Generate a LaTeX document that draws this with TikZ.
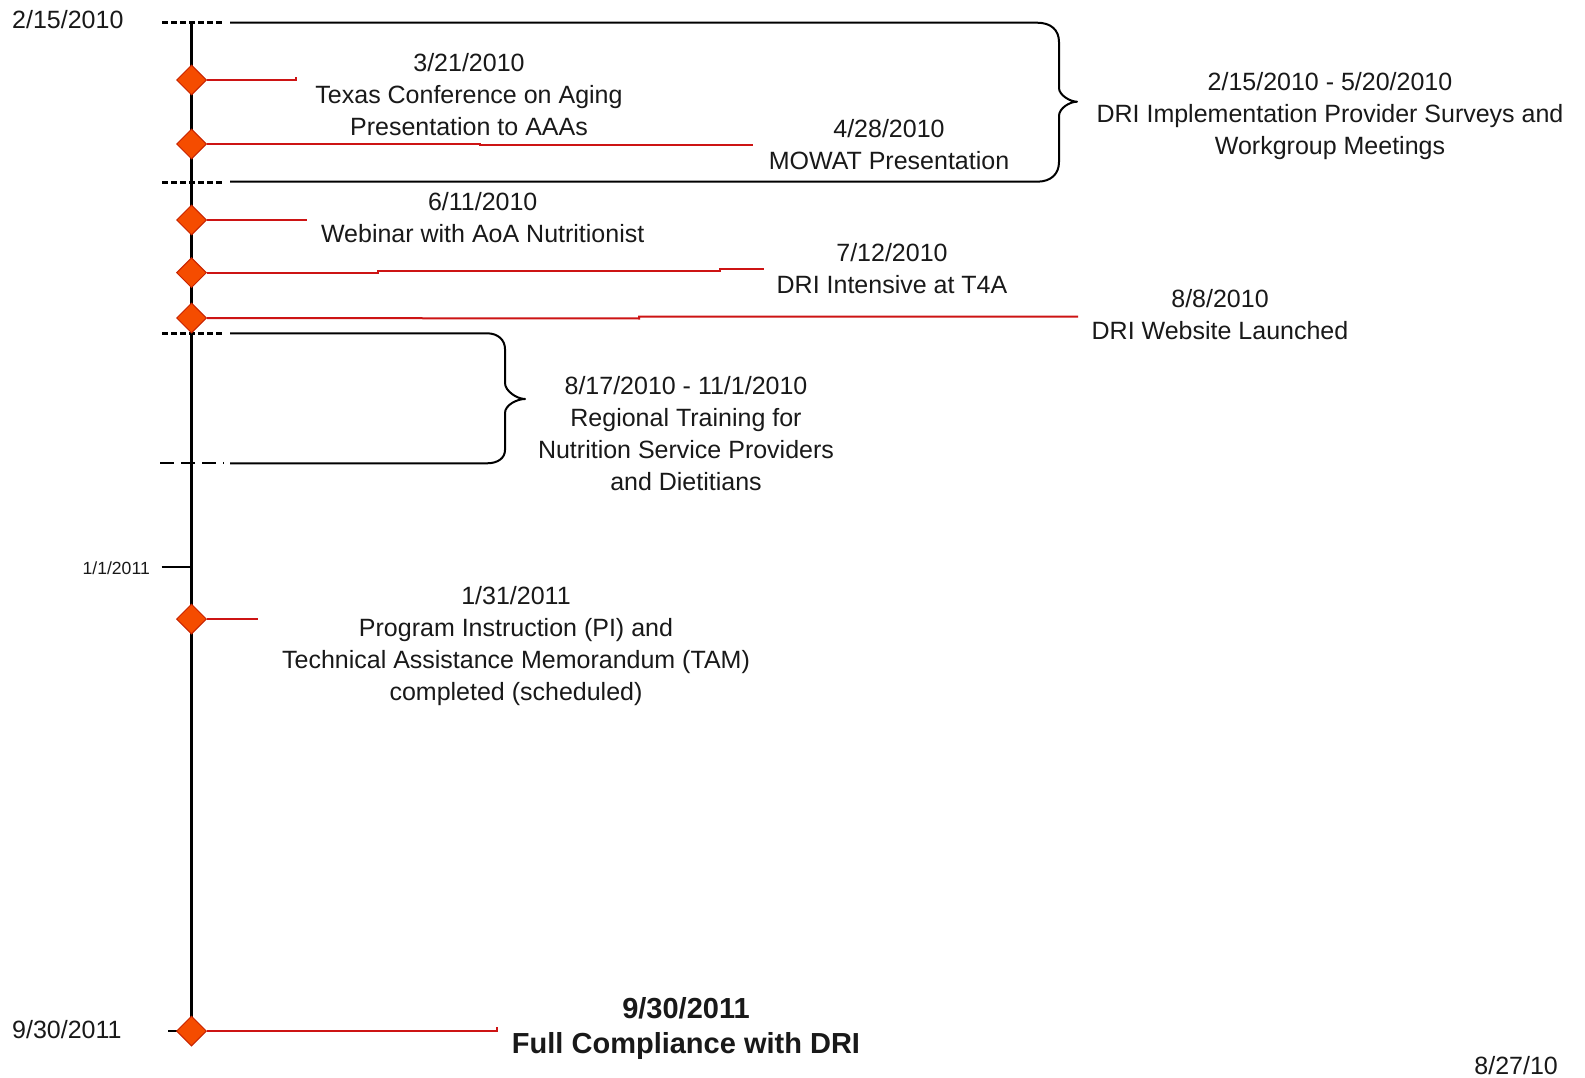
\documentclass[tikz,border=0pt]{standalone}
\usepackage{fontspec}
\setmainfont{Liberation Sans}
\usetikzlibrary{shapes.geometric}

\definecolor{inkgray}{RGB}{25,25,25}
\definecolor{markfill}{RGB}{245,76,0}
\definecolor{markedge}{RGB}{200,35,0}
\definecolor{leadred}{RGB}{205,20,20}

\pgfdeclarelayer{bg}
\pgfsetlayers{bg,main}

\begin{document}
\begin{tikzpicture}[x=1pt,y=-1pt,
  marker/.style={diamond, draw=markedge, line width=1pt, fill=markfill,
    minimum width=30pt, minimum height=30pt, inner sep=0pt},
  lead/.style={draw=leadred, line width=2pt},
  spine/.style={draw=black, line width=3.5pt},
  tickdash/.style={draw=black, line width=3pt, dash pattern=on 6pt off 3pt},
  tickdashlong/.style={draw=black, line width=2pt, dash pattern=on 14pt off 7pt},
  bracket/.style={draw=black, line width=2pt, line join=round},
  label/.style={text=inkgray, inner sep=0pt, align=center,
    font=\fontsize{25}{32}\selectfont, anchor=north},
  datelabel/.style={text=inkgray, inner sep=0pt, font=\fontsize{25}{30}\selectfont},
]
\path[use as bounding box] (0,0) rectangle (1585,1078);

% event markers on the time line
\node[marker] (d1) at (191.5,80) {};
\node[marker] (d2) at (191.5,144) {};
\node[marker] (d3) at (191.5,220) {};
\node[marker] (d4) at (191.5,272.7) {};
\node[marker] (d5) at (191.5,318) {};
\node[marker] (d6) at (191.5,619) {};
\node[marker] (d7) at (191.5,1031) {};

% free ends of the leader lines and ticks
\coordinate (top) at (191.5,22.7);
\coordinate (e1) at (296,80);
\coordinate (e2) at (753,145.5);
\coordinate (e3) at (307,220);
\coordinate (e4) at (764,269);
\coordinate (e5) at (1078,316.5);
\coordinate (e6) at (258,619);
\coordinate (e7) at (497,1031);
\coordinate (y2011) at (161.7,567.3);
\coordinate (endtick) at (168,1031);

\begin{pgfonlayer}{bg}
  % page
  \fill[white] (0,0) rectangle (1585,1078);
  % main axis
  \draw[spine] (top) -- (d7.center);
  % period ticks
  \draw[tickdash] (162,22.7) -- (222,22.7);
  \draw[tickdash] (162,182.3) -- (222,182.3);
  \draw[tickdash] (162,333.3) -- (222,333.3);
  \draw[tickdashlong] (160,463.3) -- (224,463.3);
  % year and end ticks
  \draw[draw=black, line width=2pt] (y2011) -- (191.5,567.3);
  \draw[draw=black, line width=2pt] (endtick) -- (d7.center);
\end{pgfonlayer}

% leader lines
\draw[lead] (d1.east) -- (e1) -- ++(0,-3);
\draw[lead] (d2.east) -- (480,144) -- (480,145.5) -- (e2);
\draw[lead] (d3.east) -- (e3);
\draw[lead] (d4.east) -- (378,272.7) -- (378,271) -- (720,271) -- (720,269) -- (e4);
\draw[lead] (d5.east) -- (639,318.5) -- (639,316.5) -- (e5);
\draw[lead] (d6.east) -- (e6);
\draw[lead] (d7.east) -- (e7) -- ++(0,-4);

% period brackets
\draw[bracket] (230,22.7) -- (1037,22.7)
  .. controls (1051,22.7) and (1059,30) .. (1059,42) -- (1059,88)
  .. controls (1059,95) and (1070,101.7) .. (1077,101.7)
  .. controls (1070,101.7) and (1059,108) .. (1059,116) -- (1059,162)
  .. controls (1059,174) and (1051,181.7) .. (1037,181.7) -- (230,181.7);
\draw[bracket] (230,333.3) -- (487,333.3)
  .. controls (498,333.3) and (505,340) .. (505,349) -- (505,383)
  .. controls (505,391) and (517,399) .. (525,399)
  .. controls (517,399) and (505,405) .. (505,413) -- (505,450)
  .. controls (505,458) and (498,463.3) .. (487,463.3) -- (230,463.3);

% axis dates
\node[datelabel, anchor=west] (start) at (12,20) {2/15/2010};
\node[datelabel, anchor=west] (finish) at (12,1030) {9/30/2011};
\node[datelabel, anchor=east, font=\fontsize{17.6}{20}\selectfont] (jan) at (150,568) {1/1/2011};
\node[datelabel, anchor=east] (stamp) at (1558,1066) {8/27/10};

% event texts
\node[label] (t321) at (469,53.5) {3/21/2010\\Texas Conference on Aging\\Presentation to AAAs};
\node[label] (t428) at (889,119.3) {4/28/2010\\MOWAT Presentation};
\node[label] (t611) at (482.7,192) {6/11/2010\\Webinar with AoA Nutritionist};
\node[label] (t712) at (892,242.7) {7/12/2010\\DRI Intensive at T4A};
\node[label] (t808) at (1220,289.3) {8/8/2010\\DRI Website Launched};
\node[label] (tsurvey) at (1330,72) {2/15/2010 - 5/20/2010\\DRI Implementation Provider Surveys and\\Workgroup Meetings};
\node[label] (ttrain) at (686,376) {8/17/2010 - 11/1/2010\\Regional Training for\\Nutrition Service Providers\\and Dietitians};
\node[label] (tpi) at (516,586) {1/31/2011\\Program Instruction (PI) and\\Technical Assistance Memorandum (TAM)\\completed (scheduled)};
\node[label, font=\bfseries\fontsize{29}{35}\selectfont] (tfull) at (686,997.4) {9/30/2011\\Full Compliance with DRI};
\end{tikzpicture}
\end{document}
